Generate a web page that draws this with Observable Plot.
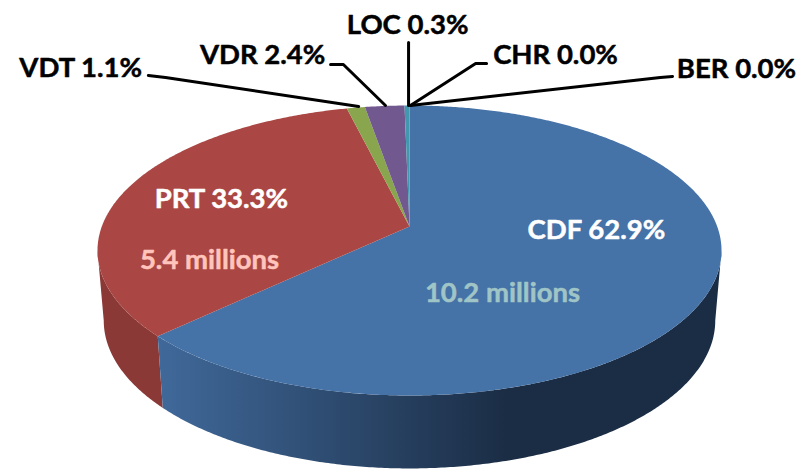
<!DOCTYPE html>
<html>
<head>
<meta charset="utf-8">
<style>html,body{margin:0;padding:0;background:#fff}svg{display:block}</style>
<script src="https://cdn.jsdelivr.net/npm/d3@7"></script>
<script src="https://cdn.jsdelivr.net/npm/@observablehq/plot@0.6"></script>
</head>
<body>
<div id="chart"></div>
<script>
const names = ["CDF","PRT","VDT","VDR","LOC","CHR","BER"];
const shares = [62.9,33.3,1.1,2.4,0.3,0.0,0.0];
const colors = ["#4572A7","#AA4643","#89A54E","#71588F","#4198AF","#DB843D","#93A9CF"];
const millions = ["10.2 millions","5.4 millions"];

// Perspective of the disc: where its centre lands inside the top ellipse,
// and the size and offset of the bottom rim, all in units of the top ellipse.
const apex = -0.166, baseV = 0.483, baseRx = 0.98, baseRy = 1.02;
const rimStart = Math.acos(apex);   // where the rim turns out of sight

function rim(theta, floor) {
  const X = Math.sin(theta), Y = -Math.cos(theta), d = 1 + apex * Y;
  const x = X * Math.sqrt(1 - apex * apex) / d, v = (Y + apex) / d;
  return floor ? {x: x * baseRx, y: baseV + v * baseRy} : {x, y: v};
}
function arc(a, b, floor) {
  const n = Math.max(2, Math.ceil(Math.abs(b - a) * 120)), out = [];
  for (let i = 0; i <= n; i++) out.push(rim(a + (b - a) * i / n, floor));
  return out;
}
let run = 0;
const wedges = names.map((name, i) => {
  const a = run / 100 * 2 * Math.PI; run += shares[i];
  return {name, a, b: run / 100 * 2 * Math.PI};
});
const topPts = wedges.flatMap(w =>
  [{x: 0, y: apex}, ...arc(w.a, w.b, false)].map(p => ({...p, name: w.name})));
const wall = (a, b) => [...arc(a, b, false), ...arc(a, b, true).reverse()];
const blueWall = wall(rimStart, wedges[0].b);
const redWall = wall(wedges[1].a, 2 * Math.PI - rimStart);

const leaders = [
  {name:"VDT",x:-.837,y:-1.207},{name:"VDT",x:-.782,y:-1.193},{name:"VDT",x:-.163,y:-.993},
  {name:"VDR",x:-.253,y:-1.283},{name:"VDR",x:-.212,y:-1.283},{name:"VDR",x:-.077,y:-1},
  {name:"LOC",x:-.003,y:-1.434},{name:"LOC",x:-.003,y:-1},
  {name:"CHR",x:.247,y:-1.29},{name:"CHR",x:.212,y:-1.29},{name:"CHR",x:.003,y:-1},
  {name:"BER",x:.843,y:-1.2},{name:"BER",x:.804,y:-1.193},{name:"BER",x:.003,y:-1}
];
const label = i => `${names[i]} ${shares[i].toFixed(1)}%`;
const outerLabels = [
  {t:label(2),x:-1.054,y:-1.255},{t:label(3),x:-.471,y:-1.345},{t:label(4),x:-.006,y:-1.552},
  {t:label(5),x:.468,y:-1.345},{t:label(6),x:1.048,y:-1.248}
];
const innerLabels = [
  {t:label(1),x:-.603,y:-.352},{t:label(0),x:.599,y:-.138}
];
const font = {fontFamily:"Lato, 'Noto Sans', sans-serif",fontWeight:700,fontSize:27.5,textAnchor:"middle",lineAnchor:"middle",strokeWidth:0.5};

const defs = () => {
  const s = d3.create("svg:defs");
  const g = s.append("linearGradient").attr("id","blueSide");
  g.append("stop").attr("offset","0").attr("stop-color","#40699A");
  g.append("stop").attr("offset","0.62").attr("stop-color","#1B2D45");
  g.append("stop").attr("offset","1").attr("stop-color","#1B2D45");
  return s.node();
};

const chart = Plot.plot({
  width:799,height:469,margin:0,
  x:{domain:[-1,1],range:[97,721],axis:null},
  y:{domain:[-1,1],range:[105,395],axis:null},
  color:{type:"ordinal",domain:names,range:colors},
  marks:[
    defs,
    Plot.line(redWall,{x:"x",y:"y",fill:"#8B3936",stroke:null,curve:"linear"}),
    Plot.line(blueWall,{x:"x",y:"y",fill:"url(#blueSide)",stroke:null,curve:"linear"}),
    Plot.line(topPts,{x:"x",y:"y",z:"name",fill:"name",stroke:null,curve:"linear"}),
    Plot.line(leaders,{x:"x",y:"y",z:"name",stroke:"#000",strokeWidth:3,strokeLinejoin:"miter",curve:"linear"}),
    Plot.text(outerLabels,{x:"x",y:"y",text:"t",fill:"#000",stroke:"#000",...font}),
    Plot.text(innerLabels,{x:"x",y:"y",text:"t",fill:"#fff",stroke:"#fff",...font}),
    Plot.text([{t:millions[0],x:.298,y:.297}],{x:"x",y:"y",text:"t",fill:"#A0C5C6",stroke:"#A0C5C6",...font}),
    Plot.text([{t:millions[1],x:-.641,y:.069}],{x:"x",y:"y",text:"t",fill:"#FFC4BC",stroke:"#FFC4BC",...font})
  ]
});
document.getElementById("chart").append(chart);
</script>
</body>
</html>
